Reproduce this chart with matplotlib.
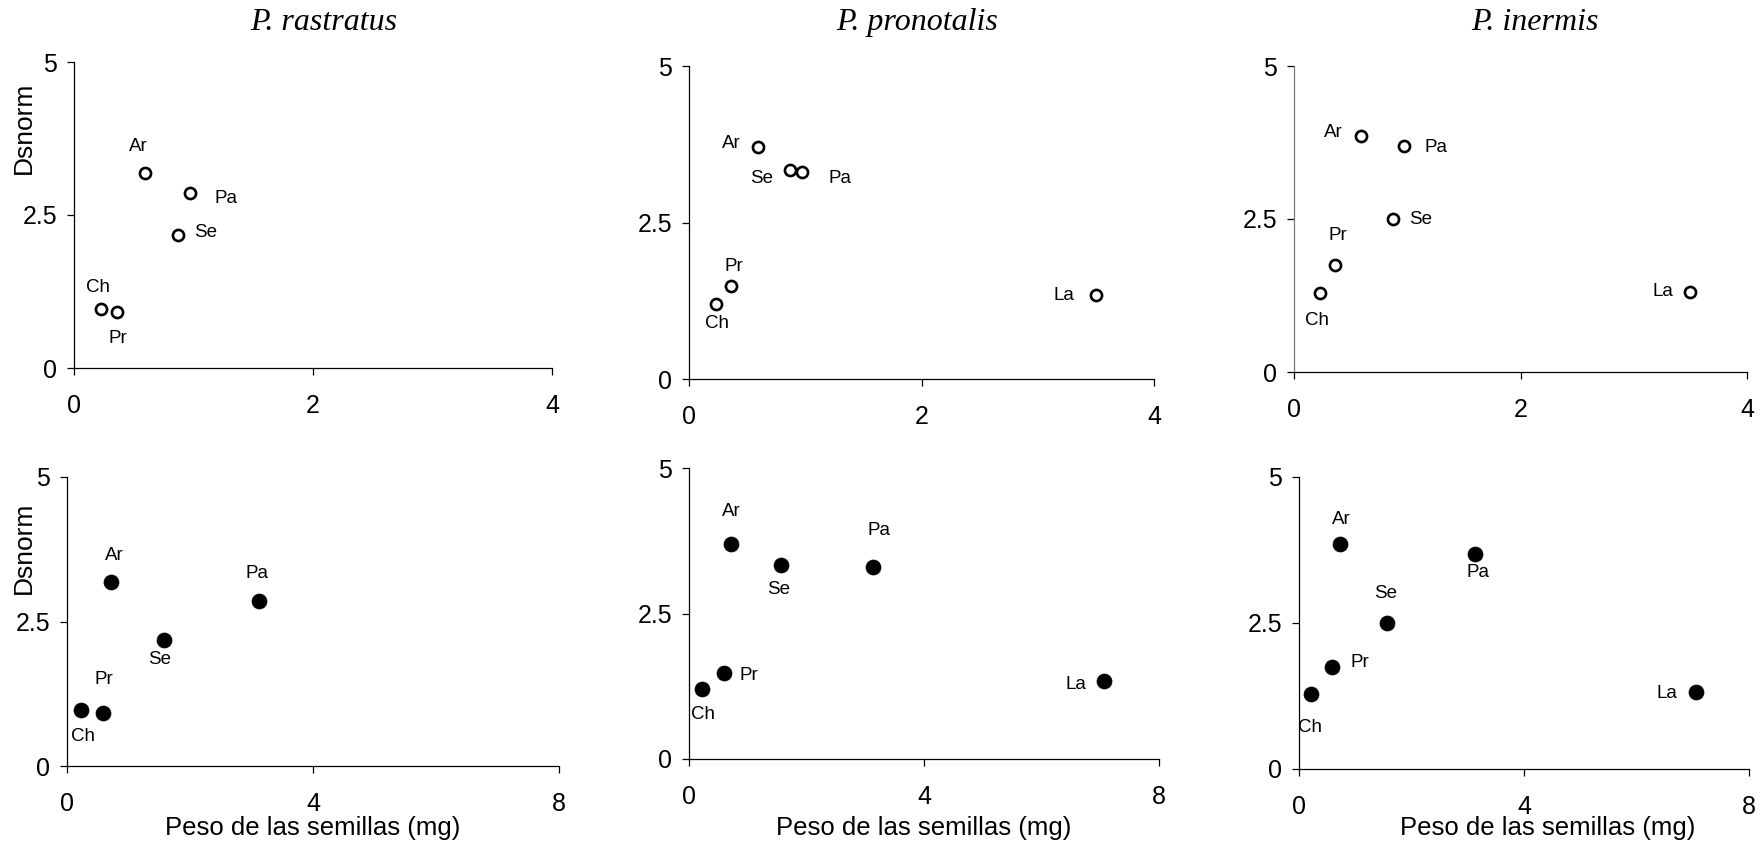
import matplotlib
matplotlib.use("Agg")
import matplotlib.pyplot as plt

# ---- data -------------------------------------------------------------
species = ["P. rastratus", "P. pronotalis", "P. inermis"]
seeds = ["Ch", "Pr", "Ar", "Se", "Pa", "La"]

# x values of the upper row
x_top = [0.23, 0.36, 0.59, 0.87, 0.97, 3.50]
# seed weight (mg), lower row
seed_weight = [0.22, 0.59, 0.72, 1.57, 3.13, 7.06]

# Dsnorm per species (None = seed not offered)
dsnorm_rastratus = [0.97, 0.91, 3.19, 2.18, 2.86, None]
dsnorm_pronotalis = [1.20, 1.48, 3.70, 3.34, 3.30, 1.34]
dsnorm_inermis = [1.29, 1.75, 3.85, 2.50, 3.69, 1.31]

y_ticks = [0, 2.5, 5]
y_ticklabels = ["0", "2.5", "5"]
x_ticks_top = [0, 2, 4]
x_ticks_bottom = [0, 4, 8]

# ---- layout ------------------------------------------------------------
W, H = 1762, 844
fig = plt.figure(figsize=(W / 100, H / 100), dpi=100)

# axes boxes in pixels: left, right, top, bottom
boxes = [
    [(74, 552, 62, 368), (689, 1154, 66, 379), (1294, 1747, 66, 372)],
    [(67, 559, 477, 766), (689, 1159, 468, 759), (1299, 1749, 477, 769)],
]
title_pos = [(324, 30), (917, 30), (1535, 30)]
xlabel_shift = [0, 0, 24]  # horizontal shift of the x label, pixels

# label offsets in pixels (dx, dy with y downward) per panel
offsets = [
    [
        {"Ch": (-3, -21), "Pr": (1, 26), "Ar": (-6, -26), "Se": (28, -2), "Pa": (36, 6)},
        {"Ch": (1, 20), "Pr": (3, -20), "Ar": (-26, -4), "Se": (-29, 9), "Pa": (38, 6), "La": (-32, 0)},
        {"Ch": (-3, 27), "Pr": (3, -29), "Ar": (-27, -4), "Se": (28, 0), "Pa": (32, 1), "La": (-27, 0)},
    ],
    [
        {"Ch": (2, 27), "Pr": (1, -34), "Ar": (3, -26), "Se": (-4, 20), "Pa": (-2, -27)},
        {"Ch": (1, 25), "Pr": (25, 3), "Ar": (0, -32), "Se": (-3, 25), "Pa": (6, -36), "La": (-28, 3)},
        {"Ch": (-1, 34), "Pr": (28, -4), "Ar": (2, -25), "Se": (-2, -29), "Pa": (3, 19), "La": (-29, 1)},
    ],
]

sans = "Liberation Sans"
serif = "Liberation Serif"

dsnorm = [dsnorm_rastratus, dsnorm_pronotalis, dsnorm_inermis]

for r in range(2):
    xs_all = x_top if r == 0 else seed_weight
    xmax = 4 if r == 0 else 8
    for c in range(3):
        left, right, top, bottom = boxes[r][c]
        ax = fig.add_axes([left / W, 1 - bottom / H, (right - left) / W, (bottom - top) / H])
        ys_all = dsnorm[c]
        xs = [x for x, y in zip(xs_all, ys_all) if y is not None]
        ys = [y for y in ys_all if y is not None]
        labs = [s for s, y in zip(seeds, ys_all) if y is not None]
        if r == 0:
            ax.plot(xs, ys, linestyle="none", marker="o", ms=8.0, mfc="white",
                    mec="black", mew=1.9, clip_on=False)
        else:
            ax.plot(xs, ys, linestyle="none", marker="o", ms=10.8, mfc="black",
                    mec="black", mew=0.5, clip_on=False)
        for x, y, s in zip(xs, ys, labs):
            dx, dy = offsets[r][c][s]
            ax.annotate(s, (x, y), xytext=(dx, -dy), textcoords="offset pixels",
                        ha="center", va="center", fontsize=13.5, family=sans)
        ax.set_xlim(0, xmax)
        ax.set_ylim(0, 5)
        ax.set_xticks(x_ticks_top if r == 0 else x_ticks_bottom)
        ax.set_yticks(y_ticks)
        ax.set_yticklabels(y_ticklabels)
        for sp in ("top", "right"):
            ax.spines[sp].set_visible(False)
        for sp in ("left", "bottom"):
            ax.spines[sp].set_linewidth(0.9)
        if r == 0 and c == 2:
            ax.spines["left"].set_color("#7a7a7a")
        ax.tick_params(axis="y", direction="out", length=4.7, width=0.9, pad=7.5,
                       labelsize=18)
        ax.tick_params(axis="x", direction="out", length=4.7, width=0.9, pad=14,
                       labelsize=18)
        for t in ax.get_xticklabels() + ax.get_yticklabels():
            t.set_family(sans)
        ax.patch.set_alpha(0)
        if c == 0:
            ax.set_ylabel("Dsnorm", fontsize=19, family=sans)
            if r == 0:
                ax.yaxis.set_label_coords(-0.079, 0.786)
            else:
                ax.yaxis.set_label_coords(-0.063, 0.756)
        if r == 1:
            cx = (left + right) / 2 + xlabel_shift[c]
            fig.text(cx / W, 1 - 835 / H, "Peso de las semillas (mg)",
                     ha="center", va="baseline", fontsize=18.5, family=sans)

for sp, (tx, ty) in zip(species, title_pos):
    fig.text(tx / W, 1 - ty / H, sp, ha="center", va="baseline", fontsize=23,
             family=serif, style="italic")

fig.savefig("out.png", dpi=100)
